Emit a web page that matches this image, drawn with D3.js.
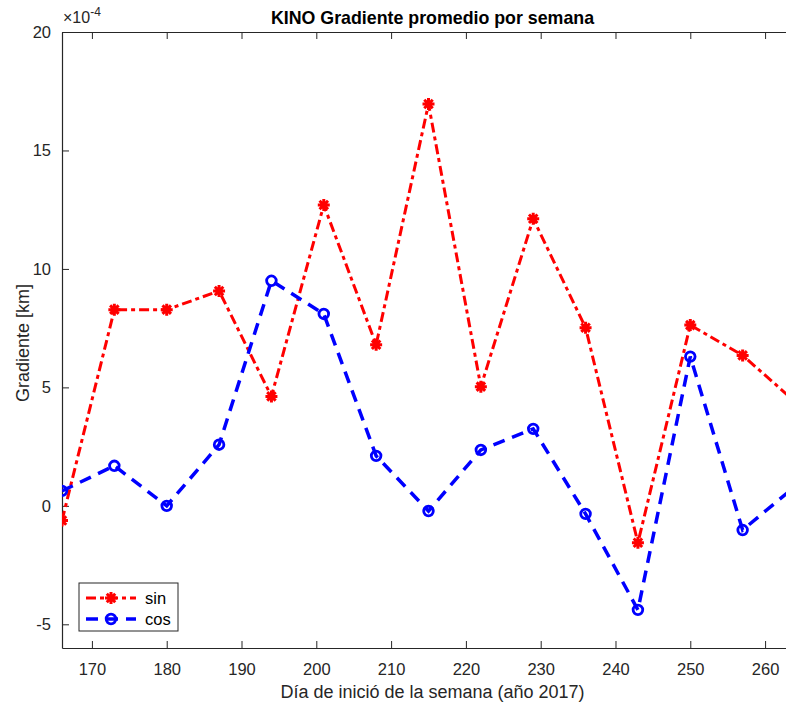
<!DOCTYPE html>
<html>
<head>
<meta charset="utf-8">
<script src="https://cdn.jsdelivr.net/npm/d3@7"></script>
<style>
body { margin: 0; background: #fff; overflow: hidden; }
svg { font-family: "Liberation Sans", Arial, Helvetica, sans-serif; }
.tick text { fill: #262626; font-size: 16.5px; }
</style>
</head>
<body>
<script>
//data (values x1e-4)
var dias = [166, 173, 180, 187, 194, 201, 208, 215, 222, 229, 236, 243, 250, 257, 264];
var sinVals = [-0.62, 8.28, 8.28, 9.07, 4.62, 12.7, 6.8, 16.96, 5.03, 12.12, 7.52, -1.56, 7.63, 6.35, 4.4];
var cosVals = [0.63, 1.69, 0.0, 2.58, 9.5, 8.1, 2.11, -0.22, 2.36, 3.25, -0.34, -4.39, 6.3, -1.02, 0.82];
var xTicks = [170, 180, 190, 200, 210, 220, 230, 240, 250, 260];
var yTicks = [-5, 0, 5, 10, 15, 20];

//frame
var width = 786, height = 704;
var margin = {top: 32, right: -9, bottom: 56, left: 62};
var w = width - margin.left - margin.right,
    h = height - margin.top - margin.bottom;

var svg = d3.select("body").append("svg")
    .attr("width", width)
    .attr("height", height);

var g = svg.append("g")
    .attr("transform", "translate(" + margin.left + "," + margin.top + ")");

var x = d3.scaleLinear().domain([166, 264]).range([0, w]);
var y = d3.scaleLinear().domain([-6, 20]).range([h, 0]);

//clip to axes
g.append("clipPath").attr("id", "clip")
    .append("rect").attr("width", w).attr("height", h);

//axes (MATLAB style: ticks inside, box on)
var axCol = "#262626";
var fmt = function(d){ return String(d); }; //plain hyphen minus like matlab
var xAxis = g.append("g").attr("transform", "translate(0," + h + ")")
    .call(d3.axisBottom(x).tickValues(xTicks).tickSizeInner(-7).tickSizeOuter(0).tickPadding(15).tickFormat(fmt));
var xTop = g.append("g")
    .call(d3.axisTop(x).tickValues(xTicks).tickSizeInner(-7).tickSizeOuter(0).tickFormat(""));
var yAxis = g.append("g")
    .call(d3.axisLeft(y).tickValues(yTicks).tickSizeInner(-7).tickSizeOuter(0).tickPadding(11).tickFormat(fmt));
[xAxis, xTop, yAxis].forEach(function(a){
    a.selectAll("path, line").attr("stroke", axCol).attr("stroke-width", 1);
    a.selectAll("path").attr("stroke-width", 1.2);
});
g.append("line").attr("x1", w).attr("x2", w).attr("y1", 0).attr("y2", h)
    .attr("stroke", axCol).attr("stroke-width", 1.2);

//exponent
var expo = g.append("text").attr("x", 1).attr("y", -9)
    .attr("fill", axCol).style("font-size", "16px");
expo.append("tspan").text("\u00d710");
expo.append("tspan").attr("dy", -7).style("font-size", "12px").text("-4");

//title and labels
svg.append("text").attr("x", margin.left + w / 2 + 4).attr("y", 24)
    .attr("text-anchor", "middle").style("font-weight", "bold").style("font-size", "17.8px")
    .attr("fill", "#000").text("KINO Gradiente promedio por semana");
svg.append("text").attr("x", margin.left + w / 2 + 4).attr("y", 698)
    .attr("text-anchor", "middle").style("font-size", "18px")
    .attr("fill", axCol).text("D\u00eda de inici\u00f3 de la semana (a\u00f1o 2017)");
svg.append("text").attr("transform", "translate(29,343) rotate(-90)")
    .attr("text-anchor", "middle").style("font-size", "18px")
    .attr("fill", axCol).text("Gradiente [km]");

//series
var series = [
    {name: "sin", vals: sinVals, color: "#ff0000", dash: "10,4,4,4", width: 3, marker: "star"},
    {name: "cos", vals: cosVals, color: "#0000ff", dash: "12,8", width: 3.5, marker: "circle"}
];

var line = d3.line()
    .x(function(d){ return x(d[0]); })
    .y(function(d){ return y(d[1]); });

var plot = g.append("g").attr("clip-path", "url(#clip)");

function drawMarker(sel, type, color){
    if (type == "star"){
        var r = 6;
        var p = "";
        [0, 45, 90, 135].forEach(function(a){
            var rad = a * Math.PI / 180;
            p += "M" + (-r * Math.cos(rad)) + "," + (-r * Math.sin(rad)) +
                 "L" + (r * Math.cos(rad)) + "," + (r * Math.sin(rad));
        });
        sel.append("path").attr("d", p).attr("stroke", color).attr("stroke-width", 3).attr("fill", "none");
    } else {
        sel.append("circle").attr("r", 4.8).attr("fill", "none")
            .attr("stroke", color).attr("stroke-width", 2.8);
    }
}

series.forEach(function(s){
    var pts = dias.map(function(d, i){ return [d, s.vals[i]]; });
    plot.append("path").datum(pts)
        .attr("d", line)
        .attr("fill", "none")
        .attr("stroke", s.color)
        .attr("stroke-width", s.width)
        .attr("stroke-dasharray", s.dash);
    pts.forEach(function(p){
        var m = plot.append("g").attr("transform", "translate(" + x(p[0]) + "," + y(p[1]) + ")");
        drawMarker(m, s.marker, s.color);
    });
});

//legend
var leg = g.append("g").attr("transform", "translate(17,551)");
leg.append("rect").attr("width", 99).attr("height", 48)
    .attr("fill", "#fff").attr("stroke", axCol).attr("stroke-width", 1);
series.forEach(function(s, i){
    var ly = 15 + i * 21;
    leg.append("line").attr("x1", 7).attr("x2", 57).attr("y1", ly).attr("y2", ly)
        .attr("stroke", s.color).attr("stroke-width", s.width).attr("stroke-dasharray", s.dash);
    var m = leg.append("g").attr("transform", "translate(32," + ly + ")");
    drawMarker(m, s.marker, s.color);
    leg.append("text").attr("x", 66).attr("y", ly + 6)
        .style("font-size", "16.5px").attr("fill", "#000").text(s.name);
});
</script>
</body>
</html>
